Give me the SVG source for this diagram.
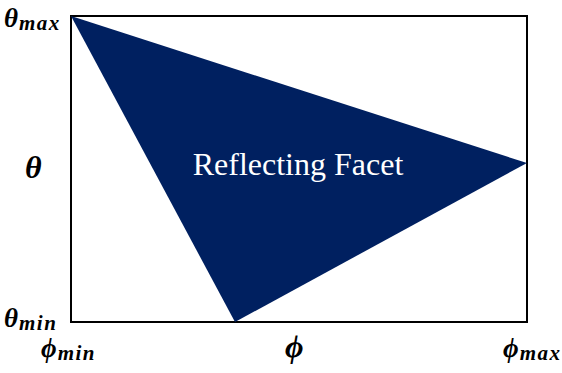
<svg xmlns="http://www.w3.org/2000/svg" width="562" height="373" viewBox="0 0 562 373">
<style>
.m{font-family:"Liberation Serif","DejaVu Serif",serif;font-weight:bold;font-style:italic;fill:#000}
.s{font-size:21px;letter-spacing:1.5px}
.b{font-size:27px}
</style>
<rect width="562" height="373" fill="#fff"/>
<g id="frame"><rect x="71" y="16" width="456" height="306" fill="none" stroke="#000" stroke-width="2"/></g>
<g id="facet">
<polygon points="71,16 527,163 235,322" fill="#002060"/>
<text x="298" y="175" font-family="Liberation Serif, serif" font-size="32" fill="#fff" text-anchor="middle">Reflecting Facet</text>
</g>
<g id="labels">
<text class="m" x="4" y="27"><tspan class="b">θ</tspan><tspan class="s" dx="1" dy="3">max</tspan></text>
<text class="m" x="4" y="327"><tspan class="b">θ</tspan><tspan class="s" dx="1" dy="3">min</tspan></text>
<text class="m" x="25" y="178" font-size="32">θ</text>
<text class="m" x="41" y="357"><tspan class="b">ϕ</tspan><tspan class="s" dx="1" dy="3">min</tspan></text>
<text class="m" x="503" y="357"><tspan class="b">ϕ</tspan><tspan class="s" dx="1" dy="3">max</tspan></text>
<text class="m" x="285" y="357" font-size="32">ϕ</text>
</g>
</svg>
